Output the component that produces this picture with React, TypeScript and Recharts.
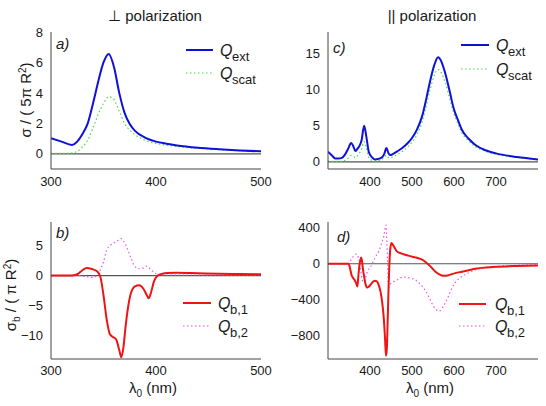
import React from 'react';
import { LineChart, Line, XAxis, YAxis, ReferenceLine } from 'recharts';

const FONT = '"Liberation Sans", Arial, Helvetica, sans-serif';

// Panel a) perpendicular polarization
const A_X = [300, 310, 320, 330, 335, 340, 345, 350, 355, 360, 365, 370, 375, 380, 390, 400, 410, 420, 440, 460, 480, 500];
const A_EXT = [1.03, 0.8, 0.58, 1.3, 2.0, 3.3, 4.75, 6.0, 6.56, 5.7, 4.0, 2.7, 1.95, 1.5, 1.05, 0.8, 0.66, 0.55, 0.4, 0.3, 0.22, 0.16];
const A_SCAT = [0.02, 0.02, 0.05, 0.45, 0.9, 1.7, 2.6, 3.3, 3.75, 3.55, 2.8, 2.0, 1.55, 1.25, 0.88, 0.68, 0.57, 0.48, 0.36, 0.27, 0.2, 0.15];

// Panel c) parallel polarization
const C_X = [300, 310, 317, 325, 333, 340, 348, 355, 360, 365, 370, 375, 380, 386, 391, 397, 405, 412, 420, 428, 434, 439, 444, 448, 455, 465, 476, 490, 500, 512, 524, 535, 544, 553, 562, 570, 579, 590, 599, 610, 619, 635, 651, 675, 700, 750, 800];
const C_EXT = [1.4, 0.85, 0.47, 0.45, 0.55, 0.95, 1.8, 2.6, 2.2, 1.5, 1.8, 2.2, 3.0, 5.0, 3.6, 1.4, 0.6, 0.33, 0.4, 0.6, 1.1, 1.9, 1.2, 0.93, 1.1, 1.45, 1.87, 2.6, 3.3, 4.5, 6.3, 9.0, 11.4, 13.4, 14.5, 13.9, 12.3, 9.7, 7.45, 5.7, 4.4, 3.2, 2.33, 1.6, 1.17, 0.65, 0.33];
const C_SCAT = [0.1, 0.05, 0.05, 0.05, 0.1, 0.2, 0.5, 0.9, 0.8, 0.6, 0.8, 1.2, 1.8, 2.8, 2.0, 0.6, 0.2, 0.1, 0.15, 0.3, 0.6, 0.9, 0.6, 0.5, 0.7, 1.0, 1.4, 2.1, 2.7, 3.8, 5.5, 8.0, 10.2, 12.0, 12.8, 12.3, 11.0, 8.7, 6.8, 5.2, 4.0, 2.9, 2.1, 1.45, 1.05, 0.6, 0.3];

// Panel b) perpendicular, sigma_b
const B_X = [300, 310, 320, 326, 330, 334, 339, 344, 347, 350, 353, 356, 359, 362, 365, 367, 369, 371, 373, 376, 380, 384, 388, 391, 393, 395, 398, 401, 404, 410, 420, 440, 460, 480, 500];
const B_1 = [0, 0, 0.02, 0.33, 0.9, 1.27, 1.1, 0.7, -0.2, -3.3, -7.3, -9.8, -10.3, -10.7, -12.5, -13.7, -12.0, -8.6, -5.8, -3.0, -1.8, -1.6, -2.2, -3.2, -3.8, -3.0, -1.0, -0.1, 0.2, 0.45, 0.48, 0.4, 0.32, 0.27, 0.22];
const B_2 = [0, 0, 0, 0, -0.1, -0.2, -0.3, 0.1, 1.0, 2.3, 4.3, 5.0, 5.4, 5.7, 6.0, 6.2, 5.8, 5.2, 4.4, 3.0, 1.5, 1.15, 1.3, 1.6, 1.4, 1.0, 0.6, 0.2, 0.1, 0.1, 0.1, 0.1, 0.1, 0.1, 0.1];

// Panel d) parallel, sigma_b
const D_X = [300, 320, 340, 349, 352, 356, 360, 364, 367, 370, 372, 375, 377, 379, 381, 383, 386, 389, 393, 397, 401, 406, 411, 416, 421, 425, 429, 432, 434, 436, 438, 440, 442, 444, 446, 448, 451, 456, 464, 474, 484, 496, 508, 516, 524, 532, 540, 548, 556, 565, 575, 585, 595, 603, 619, 635, 651, 675, 700, 750, 800];
const D_1 = [0, 0, 0, 0, -40, -125, -160, -185, -215, -253, -150, -10, 40, 71, 30, -50, -140, -220, -264, -255, -235, -205, -190, -195, -240, -310, -430, -560, -690, -850, -1024, -950, -650, -300, -20, 150, 231, 200, 138, 115, 100, 85, 71, 60, 45, 20, -11, -50, -88, -118, -134, -130, -115, -104, -88, -72, -56, -42, -33, -24, -19];
const D_2 = [0, 0, 0, 0, 20, 55, 80, 100, 108, 100, 70, 20, -40, -110, -170, -200, -200, -160, -100, -60, -40, 10, 55, 100, 140, 190, 250, 290, 340, 400, 430, 250, 0, -272, -250, -230, -215, -200, -180, -155, -149, -160, -179, -210, -250, -300, -370, -445, -505, -525, -470, -380, -272, -210, -142, -100, -67, -45, -30, -17, -10];

const X_TICKS_AB = [300, 400, 500];
const X_TICKS_CD = [400, 500, 600, 700];
const Y_TICKS_A = [0, 2, 4, 6, 8];
const Y_TICKS_C = [0, 5, 10, 15];
const Y_TICKS_B = [-10, -5, 0, 5];
const Y_TICKS_D = [-800, -400, 0, 400];

const BLUE = '#1010dd';
const GREEN = '#44dd44';
const RED = '#ee1414';
const MAGENTA = '#ee55ee';
const TXT = '#1a1a1a';

function zip(xs: number[], ys: number[]) {
  return xs.map((x, i) => ({ x, y: ys[i] }));
}

const fmt = (v: number) => (v < 0 ? '\u2212' + Math.abs(v) : String(v));

type S = { name: string; data: { x: number; y: number }[]; color: string; width: number; dash?: string };

function Panel(props: {
  left: number; top: number; width: number; height: number;
  margin: { top: number; right: number; bottom: number; left: number };
  yWidth: number; xHeight: number; xTickDy?: number;
  xDomain: [number, number]; yDomain: [number, number];
  xTicks: number[]; yTicks: number[]; series: S[];
}) {
  const tick = { fill: TXT, fontSize: 13, fontFamily: FONT };
  const xtick = { ...tick, dy: props.xTickDy || 0 };
  return (
    <div style={{ position: 'absolute', left: props.left, top: props.top }}>
      <LineChart width={props.width} height={props.height} margin={props.margin}>
        <XAxis type="number" dataKey="x" domain={props.xDomain} ticks={props.xTicks} allowDataOverflow
          height={props.xHeight} tickLine={false} axisLine={{ stroke: '#444' }} tick={xtick} interval={0} />
        <YAxis type="number" domain={props.yDomain} ticks={props.yTicks} allowDataOverflow width={props.yWidth}
          tickLine={false} axisLine={{ stroke: '#444' }} tick={tick} interval={0} tickFormatter={fmt} />
        <ReferenceLine y={0} stroke="#555" strokeWidth={1.2} />
        {props.series.map((s) => (
          <Line key={s.name} data={s.data} dataKey="y" type="monotone" stroke={s.color} strokeWidth={s.width}
            strokeDasharray={s.dash} dot={false} isAnimationActive={false} />
        ))}
      </LineChart>
    </div>
  );
}

function LegendEntry({ x1, x2, y, color, width, dash, sub, tx }: { x1: number; x2: number; y: number; color: string; width: number; dash?: string; sub: string; tx: number }) {
  return (
    <g>
      <line x1={x1} x2={x2} y1={y} y2={y} stroke={color} strokeWidth={width} strokeDasharray={dash} />
      <text x={tx} y={y + 5.5} fontSize={16} fontStyle="italic" fontFamily={FONT} fill={TXT}>Q</text>
      <text x={tx + 12} y={y + 11} fontSize={13} fontFamily={FONT} fill={TXT}>{sub}</text>
    </g>
  );
}

export default function App() {
  return (
    <div style={{ position: 'absolute', left: 0, top: 0, width: 546, height: 406, background: '#fff' }}>
      <Panel left={0} top={0} width={273} height={200} margin={{ top: 32, right: 12, bottom: 0, left: 0 }}
        yWidth={51} xHeight={31} xDomain={[300, 500]} yDomain={[-1, 8]} xTicks={X_TICKS_AB} yTicks={Y_TICKS_A}
        series={[
          { name: 'scat', data: zip(A_X, A_SCAT), color: GREEN, width: 1.2, dash: '1.5 2.5' },
          { name: 'ext', data: zip(A_X, A_EXT), color: BLUE, width: 2 },
        ]} />
      <Panel left={273} top={0} width={273} height={200} margin={{ top: 32, right: 8, bottom: 0, left: 0 }}
        yWidth={55} xHeight={31} xDomain={[300, 800]} yDomain={[-1, 18]} xTicks={X_TICKS_CD} yTicks={Y_TICKS_C}
        series={[
          { name: 'scat', data: zip(C_X, C_SCAT), color: GREEN, width: 1.2, dash: '1.5 2.5' },
          { name: 'ext', data: zip(C_X, C_EXT), color: BLUE, width: 2 },
        ]} />
      <Panel left={0} top={200} width={273} height={206} margin={{ top: 22, right: 12, bottom: 0, left: 0 }}
        yWidth={51} xHeight={47} xTickDy={-1.5} xDomain={[300, 500]} yDomain={[-14, 9]} xTicks={X_TICKS_AB} yTicks={Y_TICKS_B}
        series={[
          { name: 'b2', data: zip(B_X, B_2), color: MAGENTA, width: 1.2, dash: '1.5 2.5' },
          { name: 'b1', data: zip(B_X, B_1), color: RED, width: 2 },
        ]} />
      <Panel left={273} top={200} width={273} height={206} margin={{ top: 22, right: 8, bottom: 0, left: 0 }}
        yWidth={55} xHeight={47} xTickDy={-1.5} xDomain={[300, 800]} yDomain={[-1060, 465]} xTicks={X_TICKS_CD} yTicks={Y_TICKS_D}
        series={[
          { name: 'b2', data: zip(D_X, D_2), color: MAGENTA, width: 1.2, dash: '1.5 2.5' },
          { name: 'b1', data: zip(D_X, D_1), color: RED, width: 2 },
        ]} />
      <svg width={546} height={406} style={{ position: 'absolute', left: 0, top: 0, pointerEvents: 'none' }}>
        <text x={155} y={21} textAnchor="middle" fontSize={15} fontFamily={FONT} fill={TXT}>⊥ polarization</text>
        <text x={432} y={21} textAnchor="middle" fontSize={15} fontFamily={FONT} fill={TXT}>|| polarization</text>

        <text x={56} y={49} fontSize={15} fontStyle="italic" fontFamily={FONT} fill={TXT}>a)</text>
        <text x={333} y={53} fontSize={15} fontStyle="italic" fontFamily={FONT} fill={TXT}>c)</text>
        <text x={56} y={238} fontSize={15} fontStyle="italic" fontFamily={FONT} fill={TXT}>b)</text>
        <text x={337} y={242} fontSize={15} fontStyle="italic" fontFamily={FONT} fill={TXT}>d)</text>

        <LegendEntry x1={186} x2={213} y={50} color={BLUE} width={2} sub="ext" tx={220} />
        <LegendEntry x1={186} x2={213} y={73} color={GREEN} width={1.2} dash="1.5 2.5" sub="scat" tx={220} />
        <LegendEntry x1={461} x2={489} y={45} color={BLUE} width={2} sub="ext" tx={496} />
        <LegendEntry x1={461} x2={489} y={69} color={GREEN} width={1.2} dash="1.5 2.5" sub="scat" tx={496} />
        <LegendEntry x1={183} x2={211} y={303} color={RED} width={2} sub="b,1" tx={218} />
        <LegendEntry x1={183} x2={211} y={326} color={MAGENTA} width={1.2} dash="1.5 2.5" sub="b,2" tx={218} />
        <LegendEntry x1={459} x2={486} y={304} color={RED} width={2} sub="b,1" tx={495} />
        <LegendEntry x1={459} x2={486} y={326} color={MAGENTA} width={1.2} dash="1.5 2.5" sub="b,2" tx={495} />

        <text transform="translate(31,100) rotate(-90)" textAnchor="middle" fontSize={15} fontFamily={FONT} fill={TXT}>
          σ / ( 5π R<tspan dy={-5} fontSize={10}>2</tspan><tspan dy={5}>)</tspan>
        </text>
        <text transform="translate(16,295) rotate(-90)" textAnchor="middle" fontSize={15} fontFamily={FONT} fill={TXT}>
          σ<tspan dy={4} fontSize={10}>b</tspan><tspan dy={-4}> / ( π R</tspan><tspan dy={-5} fontSize={10}>2</tspan><tspan dy={5}>)</tspan>
        </text>

        <text x={153} y={393} textAnchor="middle" fontSize={15} fontFamily={FONT} fill={TXT}>
          λ<tspan dy={4} fontSize={10}>0</tspan><tspan dy={-4}>  (nm)</tspan>
        </text>
        <text x={430} y={393} textAnchor="middle" fontSize={15} fontFamily={FONT} fill={TXT}>
          λ<tspan dy={4} fontSize={10}>0</tspan><tspan dy={-4}>  (nm)</tspan>
        </text>
      </svg>
    </div>
  );
}
